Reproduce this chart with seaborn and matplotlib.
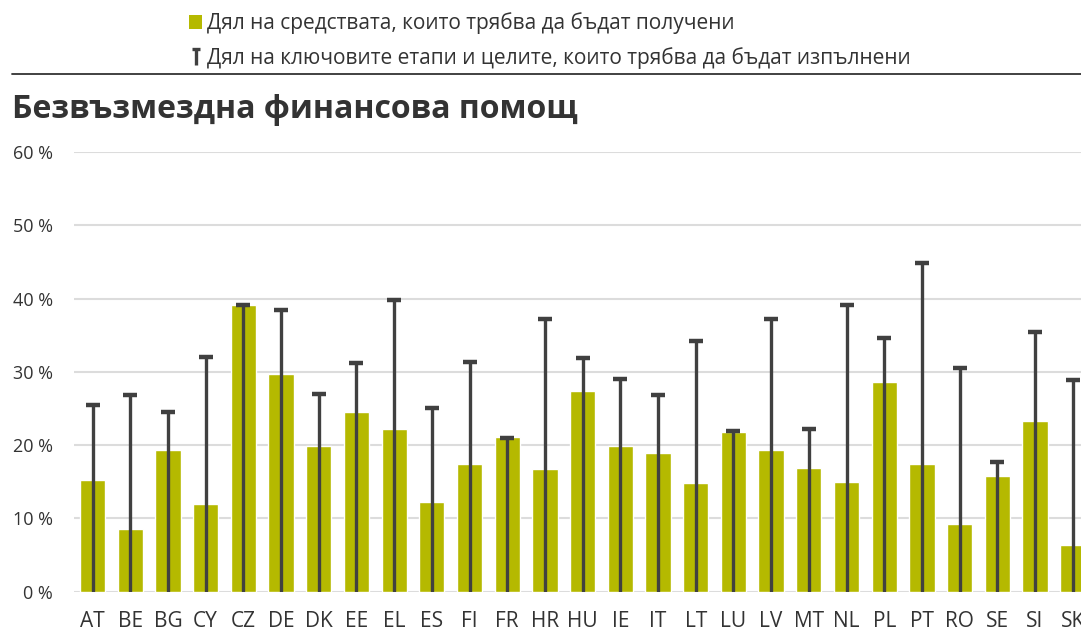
import matplotlib
matplotlib.use("Agg")
import matplotlib.pyplot as plt
from matplotlib.lines import Line2D
from matplotlib.patches import Patch
from matplotlib.path import Path
import seaborn as sns
import pandas as pd

countries = ["AT", "BE", "BG", "CY", "CZ", "DE", "DK", "EE", "EL", "ES", "FI", "FR", "HR",
             "HU", "IE", "IT", "LT", "LU", "LV", "MT", "NL", "PL", "PT", "RO", "SE", "SI", "SK"]
funds_share = [15.3, 8.5, 19.3, 12.0, 39.1, 29.7, 19.9, 24.5, 22.2, 12.3, 17.5, 21.1, 16.8,
               27.4, 19.9, 19.0, 14.8, 21.8, 19.3, 16.9, 15.0, 28.6, 17.5, 9.3, 15.8, 23.3, 6.4]
milestones_share = [25.5, 26.9, 24.6, 32.1, 39.1, 38.4, 27.0, 31.2, 39.8, 25.1, 31.4, 21.0, 37.2,
                    31.9, 29.1, 26.9, 34.2, 22.0, 37.2, 22.2, 39.1, 34.6, 44.9, 30.5, 17.7, 35.4, 28.9]
y_ticks = [0, 10, 20, 30, 40, 50, 60]

label_funds = "Дял на средствата, които трябва да бъдат получени"
label_milestones = "Дял на ключовите етапи и целите, които трябва да бъдат изпълнени"
title = "Безвъзмездна финансова помощ"

BAR = "#b5b900"
LINE = "#404040"
TEXT = "#333333"
GRID = "#dcdcdc"

sns.set_theme(style="white")
plt.rcParams["font.family"] = ["Open Sans", "DejaVu Sans"]

df = pd.DataFrame({"country": countries, "funds": funds_share, "milestones": milestones_share})

fig = plt.figure(figsize=(10.81, 6.31), dpi=100)
ax = fig.add_axes([0.0682, 0.0623, 0.9318, 0.6964])

sns.barplot(data=df, x="country", y="funds", color=BAR, width=0.67, saturation=1,
            ax=ax, zorder=2)

pos = range(len(countries))
ax.vlines(pos, 0, df["milestones"], color=LINE, linewidth=2.4, zorder=3)
ax.plot(pos, df["milestones"], linestyle="none", marker="_", markersize=10,
        markeredgewidth=3.2, color=LINE, zorder=3)

ax.set_ylim(0, 60)
ax.set_xlim(-0.5, 26.22)
ax.set_yticks(y_ticks)
ax.set_yticklabels([f"{v} %" for v in y_ticks])
ax.set_xlabel("")
ax.set_ylabel("")
ax.yaxis.grid(True, color=GRID, linewidth=1.5, zorder=0)
ax.set_axisbelow(True)
for s in ax.spines.values():
    s.set_visible(False)
ax.tick_params(axis="y", length=0, pad=15, labelsize=13, labelcolor=TEXT)
ax.tick_params(axis="x", length=0, pad=14, labelsize=15, labelcolor=TEXT)

# T-shaped marker for the milestone lines in the legend
t_marker = Path([(-0.5, 1), (0.5, 1), (0, 1), (0, -1)],
                [Path.MOVETO, Path.LINETO, Path.MOVETO, Path.LINETO])
handles = [
    Patch(facecolor=BAR, edgecolor="none"),
    Line2D([], [], linestyle="none", marker=t_marker, markersize=11,
           markeredgewidth=2.4, color=LINE),
]
fig.legend(handles, [label_funds, label_milestones], loc="upper left",
           bbox_to_anchor=(0.1632, 1.0), frameon=False, fontsize=15,
           handlelength=0.65, handleheight=0.65, handletextpad=0.22,
           labelspacing=0.62, labelcolor=TEXT, borderaxespad=0.2)

fig.add_artist(Line2D([12 / 1081, 1.0], [1 - 74 / 631] * 2, color=TEXT, linewidth=1.3))
fig.text(12 / 1081, 1 - 109 / 631, title, fontsize=23, fontweight="bold",
         color=TEXT, va="center", ha="left")

fig.savefig("out.png", dpi=100)
